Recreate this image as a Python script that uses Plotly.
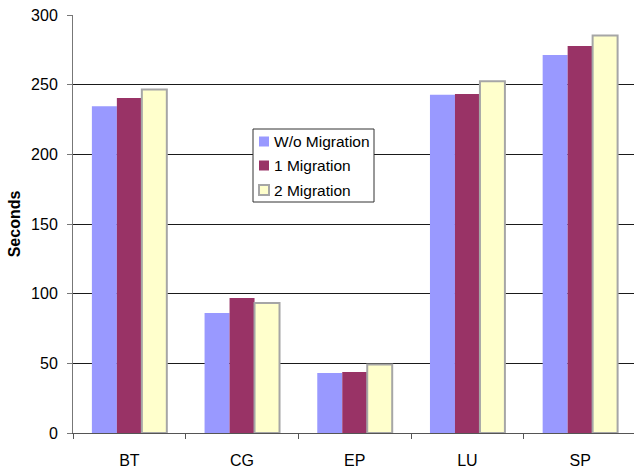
import plotly.graph_objects as go

# Benchmark run times in seconds
benchmarks = ["BT", "CG", "EP", "LU", "SP"]
no_migration = [234.5, 86.2, 43.0, 242.8, 271.3]
one_migration = [240.4, 96.9, 43.8, 243.3, 277.8]
two_migration = [246.5, 93.3, 49.2, 252.5, 285.2]

series_names = ["W/o Migration", "1 Migration", "2 Migration"]
series_values = [no_migration, one_migration, two_migration]
fill_colors = ["#9999FF", "#993366", "#FFFFCC"]
edge_colors = ["#9999FF", "#993366", "#A6A6A6"]
edge_widths = [0, 0, 2]

FONT = "Liberation Sans, Arial, sans-serif"

# plot area in pixels
W, H = 634, 472
L, T, B = 73, 15, 39
PW, PH = W - L, H - T - B


def px_x(x):
    return (x - L) / PW


def px_y(y):
    return (H - B - y) / PH


fig = go.Figure()
for name, vals, fill, edge, lw in zip(series_names, series_values,
                                      fill_colors, edge_colors, edge_widths):
    fig.add_trace(go.Bar(
        name=name, x=benchmarks, y=vals, showlegend=False,
        marker=dict(color=fill, line=dict(color=edge, width=lw)),
    ))

# boxed legend floating over the plot
shapes = [dict(type="rect", xref="paper", yref="paper",
               x0=px_x(253), x1=px_x(374), y0=px_y(202), y1=px_y(129),
               fillcolor="white", line=dict(color="#333333", width=1),
               layer="above")]
annotations = []
row_centers = [141.5, 165.5, 190]
for name, fill, edge, lw, cy in zip(series_names, fill_colors, edge_colors,
                                    edge_widths, row_centers):
    shapes.append(dict(type="rect", xref="paper", yref="paper",
                       x0=px_x(259), x1=px_x(269),
                       y0=px_y(cy + 5), y1=px_y(cy - 5),
                       fillcolor=fill, layer="above",
                       line=dict(color=edge, width=lw if lw else 0)))
    annotations.append(dict(text=name, xref="paper", yref="paper",
                            x=px_x(272), y=px_y(cy), xanchor="left",
                            yanchor="middle", showarrow=False,
                            font=dict(family=FONT, size=15.5, color="black")))

fig.update_layout(
    width=W, height=H,
    margin=dict(l=L, r=0, t=T, b=B),
    paper_bgcolor="white", plot_bgcolor="white",
    barmode="group", bargap=0.335, bargroupgap=0,
    font=dict(family=FONT, size=16, color="black"),
    shapes=shapes, annotations=annotations,
    xaxis=dict(
        range=[-0.5, 4.478],
        showline=True, linecolor="#555555", linewidth=1,
        ticks="outside", tickson="boundaries", ticklen=5, tickcolor="#555555",
        showgrid=False, tickfont=dict(size=16), ticklabelstandoff=13,
    ),
    yaxis=dict(
        range=[0, 300], dtick=50,
        showline=True, linecolor="#777777", linewidth=1,
        ticks="outside", ticklen=5, tickcolor="#777777",
        showgrid=True, gridcolor="#1a1a1a", gridwidth=1,
        zeroline=False, tickfont=dict(size=16), ticklabelstandoff=6,
        title=dict(text="<b>Seconds</b>", font=dict(size=16), standoff=6),
    ),
)

fig.write_html("out.html")
